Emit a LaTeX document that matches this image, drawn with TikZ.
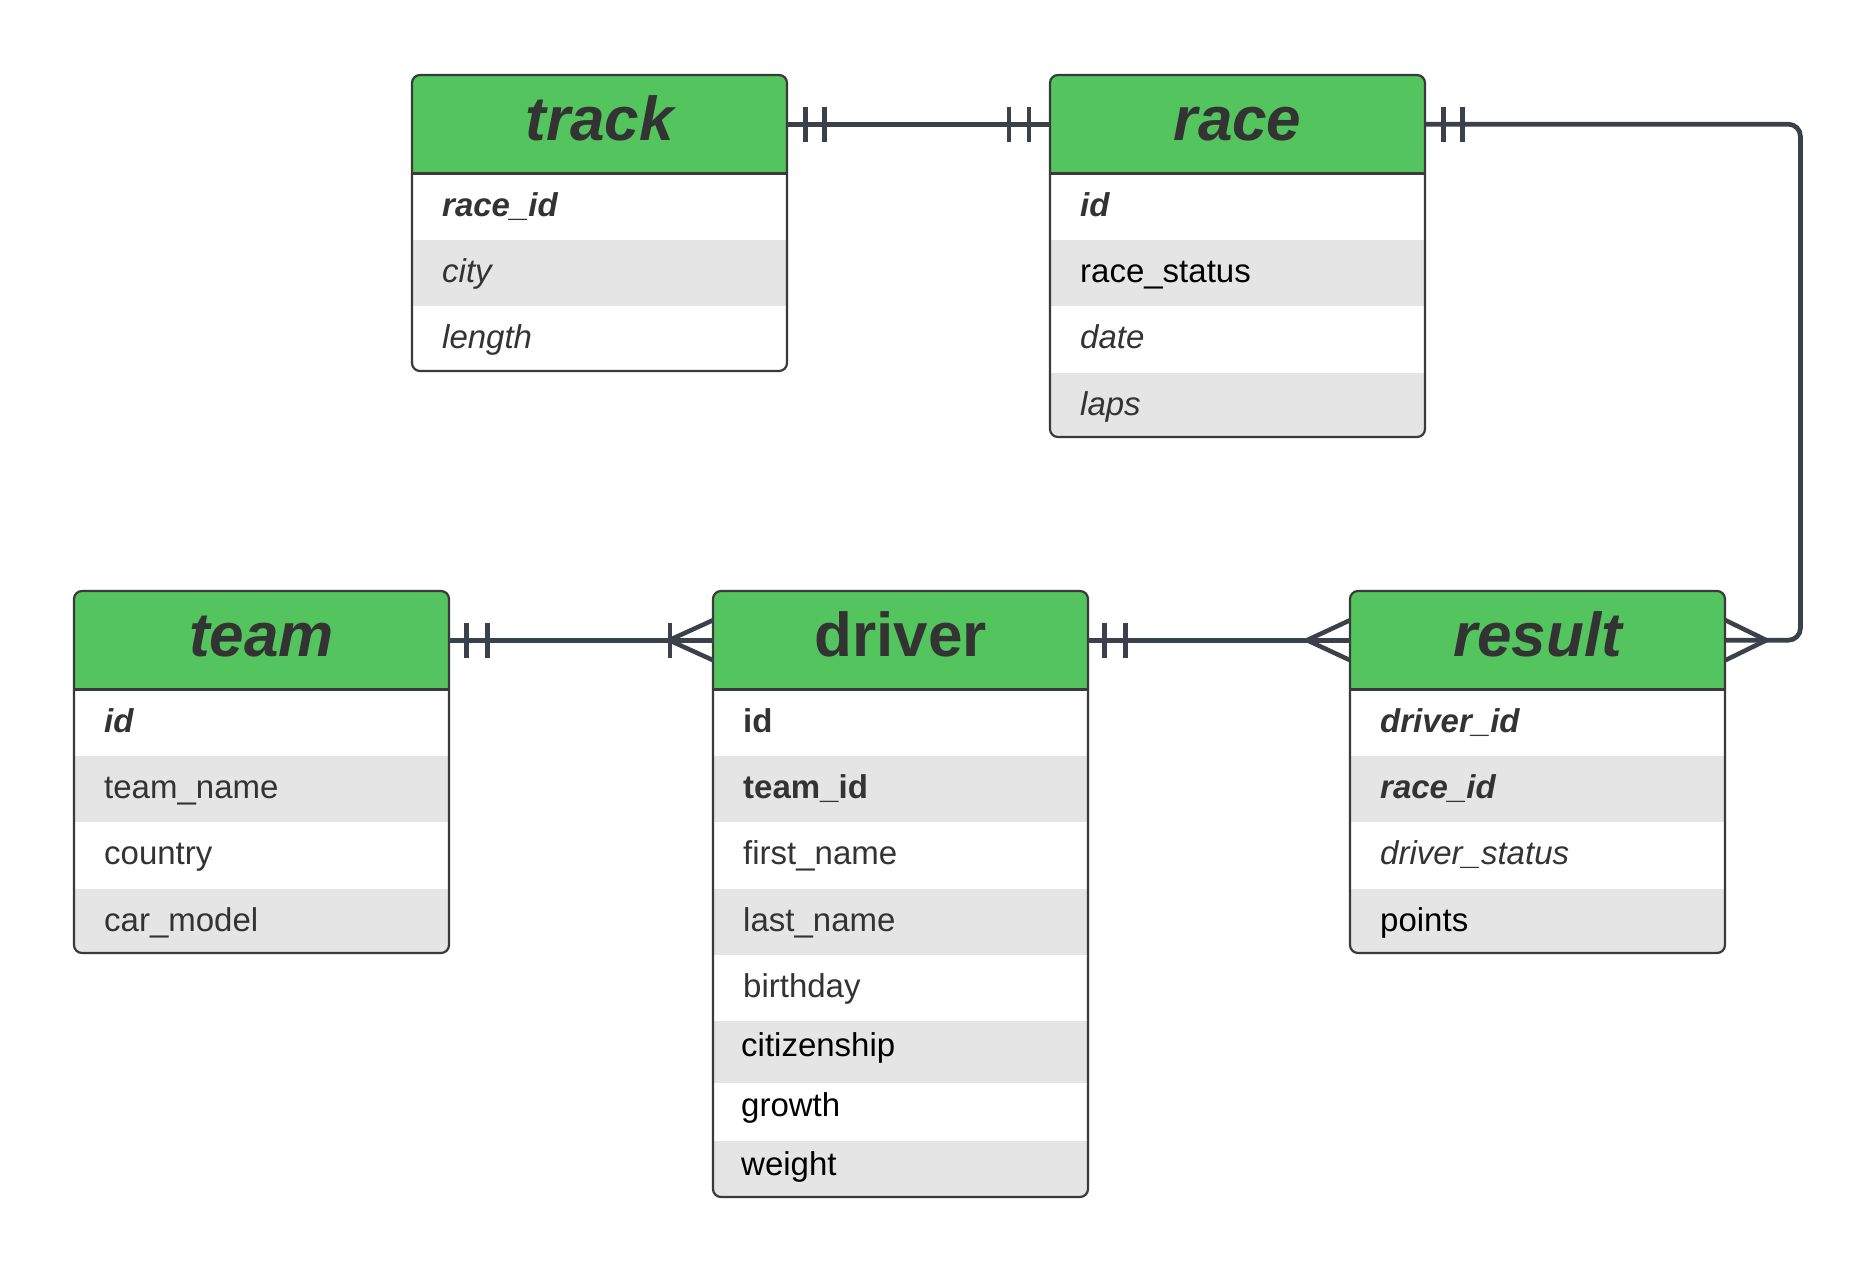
\documentclass[tikz,border=0pt]{standalone}
\usepackage{fontspec}
\setmainfont{Liberation Sans}
\usetikzlibrary{calc}
\definecolor{hdrgreen}{HTML}{54C45E}
\definecolor{rowgray}{HTML}{E5E5E5}
\definecolor{txt}{HTML}{333333}
\definecolor{edgec}{HTML}{3A3A3A}
\definecolor{linec}{HTML}{3A414A}
\begin{document}
\begin{tikzpicture}[x=1pt,y=-1pt,
 hdr/.style={anchor=north west, fill=hdrgreen, minimum width=375pt, minimum height=98pt, inner sep=0pt, text height=46pt, text depth=13pt, font=\fontsize{62}{70}\selectfont\bfseries\itshape, text=txt},
 hdrup/.style={hdr, font=\fontsize{62}{70}\selectfont\bfseries},
 rowbase/.style={anchor=north west, minimum height=66pt, inner xsep=30pt, inner ysep=0pt, text width=315pt, align=left, text height=25pt, text depth=6pt, font=\fontsize{33}{40}\selectfont, text=txt},
 rw/.style={rowbase, fill=white},
 rg/.style={rowbase, fill=rowgray},
 bi/.style={font=\fontsize{33}{40}\selectfont\bfseries\itshape},
 bo/.style={font=\fontsize{33}{40}\selectfont\bfseries},
 it/.style={font=\fontsize{33}{40}\selectfont\itshape},
 blk/.style={text=black},
 hi/.style={text depth=16pt},
 box/.style={draw=edgec, line width=2.2pt, rounded corners=8pt},
 sepline/.style={draw=edgec, line width=3pt},
 conn/.style={draw=linec, line width=4.7pt},
 bar/.style={draw=linec, line width=4.5pt}
]
\useasboundingbox (0,0) rectangle (1875,1273);

% ---------- track ----------
\begin{scope}
\clip[rounded corners=8pt] (412,75) rectangle (787,371);
\node[hdr] (track) at (412,75) {track};
\node[rw,bi] (track-r1) at (track.south west) {race\_id};
\node[rg,it] (track-r2) at (track-r1.south west) {city};
\node[rw,it] (track-r3) at (track-r2.south west) {length};
\end{scope}
\draw[box] (412,75) rectangle (787,371);
\draw[sepline] (track.south west) -- (track.south east);

% ---------- race ----------
\begin{scope}
\clip[rounded corners=8pt] (1050,75) rectangle (1425,437);
\node[hdr] (race) at (1050,75) {race};
\node[rw,bi] (race-r1) at (race.south west) {id};
\node[rg,blk] (race-r2) at (race-r1.south west) {race\_status};
\node[rw,it] (race-r3) at (race-r2.south west) {date};
\node[rg,it] (race-r4) at (race-r3.south west) {laps};
\end{scope}
\draw[box] (1050,75) rectangle (1425,437);
\draw[sepline] (race.south west) -- (race.south east);

% ---------- team ----------
\begin{scope}
\clip[rounded corners=8pt] (74,591) rectangle (449,953);
\node[hdr] (team) at (74,591) {team};
\node[rw,bi] (team-r1) at (team.south west) {id};
\node[rg] (team-r2) at (team-r1.south west) {team\_name};
\node[rw] (team-r3) at (team-r2.south west) {country};
\node[rg] (team-r4) at (team-r3.south west) {car\_model};
\end{scope}
\draw[box] (74,591) rectangle (449,953);
\draw[sepline] (team.south west) -- (team.south east);

% ---------- driver ----------
\begin{scope}
\clip[rounded corners=8pt] (713,591) rectangle (1088,1197);
\node[hdrup] (driver) at (713,591) {driver};
\node[rw,bo] (driver-r1) at (driver.south west) {id};
\node[rg,bo] (driver-r2) at (driver-r1.south west) {team\_id};
\node[rw] (driver-r3) at (driver-r2.south west) {first\_name};
\node[rg] (driver-r4) at (driver-r3.south west) {last\_name};
\node[rw,minimum height=65pt] (driver-r5) at (driver-r4.south west) {birthday};
\node[rg,blk,hi,minimum height=62pt,inner xsep=28pt,text width=319pt] (driver-r6) at (driver-r5.south west) {citizenship};
\node[rw,blk,hi,minimum height=58pt,inner xsep=28pt,text width=319pt] (driver-r7) at (driver-r6.south west) {growth};
\node[rg,blk,hi,minimum height=59pt,inner xsep=28pt,text width=319pt] (driver-r8) at (driver-r7.south west) {weight};
\end{scope}
\draw[box] (713,591) rectangle (1088,1197);
\draw[sepline] (driver.south west) -- (driver.south east);

% ---------- result ----------
\begin{scope}
\clip[rounded corners=8pt] (1350,591) rectangle (1725,953);
\node[hdr] (result) at (1350,591) {result};
\node[rw,bi] (result-r1) at (result.south west) {driver\_id};
\node[rg,bi] (result-r2) at (result-r1.south west) {race\_id};
\node[rw,it] (result-r3) at (result-r2.south west) {driver\_status};
\node[rg,blk] (result-r4) at (result-r3.south west) {points};
\end{scope}
\draw[box] (1350,591) rectangle (1725,953);
\draw[sepline] (result.south west) -- (result.south east);

% ---------- connectors ----------
% track -- race (one and only one both ends)
\draw[conn] (track.east) -- (race.west);
\draw[bar] ($(track.east)+(18,-17.5)$) -- ($(track.east)+(18,17.5)$);
\draw[bar] ($(track.east)+(37,-17.5)$) -- ($(track.east)+(37,17.5)$);
\draw[bar] ($(race.west)+(-41,-17.5)$) -- ($(race.west)+(-41,17.5)$);
\draw[bar] ($(race.west)+(-21,-17.5)$) -- ($(race.west)+(-21,17.5)$);

% race -- result (one to many)
\coordinate (rr) at ($(result.east)+(75,0)$);
\draw[conn, rounded corners=12pt] (race.east) -| (rr) -- (result.east);
\draw[bar] ($(race.east)+(18,-17.5)$) -- ($(race.east)+(18,17.5)$);
\draw[bar] ($(race.east)+(37,-17.5)$) -- ($(race.east)+(37,17.5)$);
\draw[bar] ($(result.east)+(0,-20)$) -- ($(result.east)+(41,0)$) -- ($(result.east)+(0,20)$);

% team -- driver (one to one-or-many)
\draw[conn] (team.east) -- (driver.west);
\draw[bar] ($(team.east)+(17,-17.5)$) -- ($(team.east)+(17,17.5)$);
\draw[bar] ($(team.east)+(38,-17.5)$) -- ($(team.east)+(38,17.5)$);
\draw[bar] ($(driver.west)+(-43,-17.5)$) -- ($(driver.west)+(-43,17.5)$);
\draw[bar] ($(driver.west)+(0,-20)$) -- ($(driver.west)+(-44,0)$) -- ($(driver.west)+(0,20)$);

% driver -- result (one to many)
\draw[conn] (driver.east) -- (result.west);
\draw[bar] ($(driver.east)+(16,-17.5)$) -- ($(driver.east)+(16,17.5)$);
\draw[bar] ($(driver.east)+(37,-17.5)$) -- ($(driver.east)+(37,17.5)$);
\draw[bar] ($(result.west)+(0,-20)$) -- ($(result.west)+(-43,0)$) -- ($(result.west)+(0,20)$);
\end{tikzpicture}
\end{document}
